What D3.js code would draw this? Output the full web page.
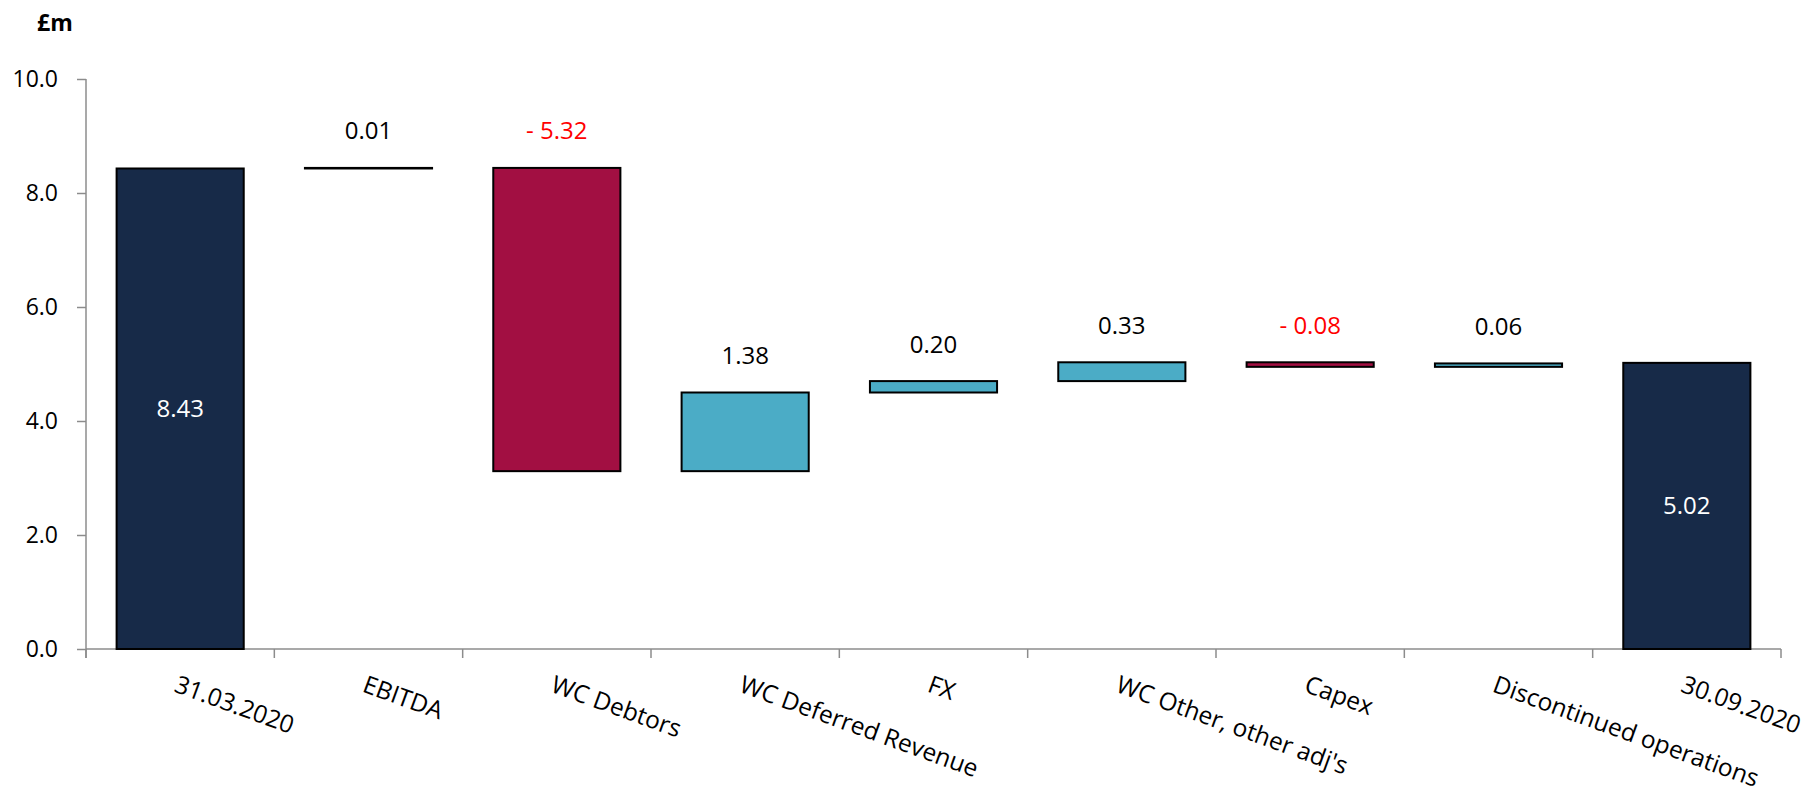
<!DOCTYPE html>
<html>
<head>
<meta charset="utf-8">
<script src="https://cdn.jsdelivr.net/npm/d3@7"></script>
<style>
  html, body { margin: 0; padding: 0; background: #ffffff; }
  svg { display: block; font-family: "Segoe UI", "Open Sans", sans-serif; }
</style>
</head>
<body>
<svg id="chart" width="1810" height="795"></svg>
<script>
// ---- data ----
const categories = ["31.03.2020", "EBITDA", "WC Debtors", "WC Deferred Revenue", "FX",
                    "WC Other, other adj's", "Capex", "Discontinued operations", "30.09.2020"];
const values = [8.43, 0.01, -5.32, 1.38, 0.20, 0.33, -0.08, 0.06, 5.02];
const isTotal = [true, false, false, false, false, false, false, false, true];
const valueLabels = ["8.43", "0.01", "- 5.32", "1.38", "0.20", "0.33", "- 0.08", "0.06", "5.02"];
const yTicks = [0, 2, 4, 6, 8, 10];
const unitLabel = "£m";

(function () {
// ---- layout ----
const svg = d3.select("#chart");
const pLeft = 86, pRight = 1781, pTop = 79, pBottom = 649;

const x = d3.scaleBand().domain(categories).range([pLeft, pRight])
  .paddingInner(0.325).paddingOuter(0.1625);
const y = d3.scaleLinear().domain([0, 10]).range([pBottom, pTop]);

const colors = { total: "#172A48", up: "#4BACC6", down: "#A20F42" };

// compute waterfall segments
let running = 0;
const bars = categories.map((c, i) => {
  let y0, y1, type;
  if (isTotal[i]) {
    y0 = 0; y1 = values[i]; running = values[i]; type = "total";
  } else {
    y0 = running; y1 = running + values[i]; running = y1;
    type = values[i] >= 0 ? "up" : "down";
  }
  return { c, i, v: values[i], lo: Math.min(y0, y1), hi: Math.max(y0, y1), type, label: valueLabels[i] };
});

// y axis
const yAxis = svg.append("g").attr("transform", `translate(${pLeft},0)`)
  .call(d3.axisLeft(y).tickValues(yTicks).tickFormat(d3.format(".1f")).tickSize(9).tickSizeOuter(0).tickPadding(19));
yAxis.select(".domain").attr("stroke", "#8c8c8c").attr("stroke-width", 1.5)
  .attr("d", `M0,${pTop}V${pBottom + 9}`);
yAxis.selectAll(".tick line").attr("stroke", "#8c8c8c").attr("stroke-width", 1.5);
yAxis.selectAll(".tick text").attr("font-size", 23).attr("fill", "#000")
  .attr("font-family", '"Segoe UI", "Open Sans", sans-serif');

// x axis line + boundary ticks
const step = x.step();
const offset = (step - x.bandwidth()) / 2;
const boundaries = categories.map(c => x(c) - offset).concat([x(categories[categories.length - 1]) + x.bandwidth() + offset]);
const xAxisG = svg.append("g");
xAxisG.append("line").attr("x1", pLeft).attr("x2", pRight).attr("y1", pBottom).attr("y2", pBottom)
  .attr("stroke", "#8c8c8c").attr("stroke-width", 1.5);
xAxisG.selectAll("line.tk").data(boundaries).enter().append("line").attr("class", "tk")
  .attr("x1", d => d).attr("x2", d => d).attr("y1", pBottom).attr("y2", pBottom + 9)
  .attr("stroke", "#8c8c8c").attr("stroke-width", 1.5);

// category labels (rotated)
xAxisG.selectAll("text.cat").data(categories).enter().append("text").attr("class", "cat")
  .attr("transform", d => `translate(${x(d) + x.bandwidth() / 2 - 1},${pBottom + 25}) rotate(20)`)
  .attr("dy", "0.75em")
  .attr("text-anchor", "start")
  .attr("font-size", 24.5)
  .attr("fill", "#000")
  .text(d => d);

// bars
svg.append("g").selectAll("rect").data(bars).enter().append("rect")
  .attr("x", d => x(d.c))
  .attr("width", x.bandwidth())
  .attr("y", d => y(d.hi))
  .attr("height", d => Math.max(0.5, y(d.lo) - y(d.hi)))
  .attr("fill", d => colors[d.type])
  .attr("stroke", "#000")
  .attr("stroke-width", 2);

// value labels
svg.append("g").selectAll("text").data(bars).enter().append("text")
  .attr("x", d => x(d.c) + x.bandwidth() / 2)
  .attr("y", d => d.type === "total" ? (y(d.lo) + y(d.hi)) / 2 : y(d.hi) - 37)
  .attr("dy", "0.35em")
  .attr("text-anchor", "middle")
  .attr("font-size", 24)
  .attr("fill", d => d.type === "total" ? "#ffffff" : (d.v < 0 ? "#ff0000" : "#000000"))
  .text(d => d.label);

// unit label
svg.append("text").attr("x", 37).attr("y", 31).attr("font-size", 23).attr("font-weight", "bold")
  .attr("fill", "#000").text(unitLabel);
})();
</script>
</body>
</html>
